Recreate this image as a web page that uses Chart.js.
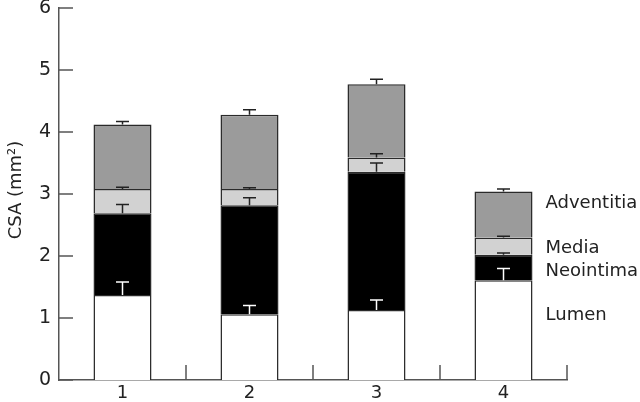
<!DOCTYPE html>
<html>
<head>
<meta charset="utf-8">
<script src="https://cdn.jsdelivr.net/npm/chart.js@4.4.1/dist/chart.umd.min.js"></script>
<style>
  html, body { margin: 0; padding: 0; background: #fff; }
  #wrap { width: 640px; height: 402px; position: relative; }
</style>
</head>
<body>
<div id="wrap"><canvas id="c"></canvas></div>
<script>
const groups = ['1', '2', '3', '4'];
const seriesNames = ['Lumen', 'Neointima', 'Media', 'Adventitia'];
const lumen = [1.37, 1.06, 1.13, 1.61];
const neointima = [1.32, 1.76, 2.23, 0.41];
const media = [0.39, 0.26, 0.23, 0.28];
const adventitia = [1.04, 1.20, 1.18, 0.74];
const lumenErr = [0.21, 0.14, 0.16, 0.19];
const neointimaErr = [0.14, 0.12, 0.14, 0.03];
const mediaErr = [0.03, 0.02, 0.06, 0.02];
const adventitiaErr = [0.05, 0.08, 0.08, 0.04];
const yTicks = [0, 1, 2, 3, 4, 5, 6];
// where the side labels sit, in axis units
const labelLevels = [1.05, 1.76, 2.13, 2.85];

const fills = ['#ffffff', '#000000', '#d2d2d2', '#9b9b9b'];
const errs = [lumenErr, neointimaErr, mediaErr, adventitiaErr];
const ink = '#222';
const fontFam = '"DejaVu Sans", sans-serif';

const datasets = [lumen, neointima, media, adventitia].map((vals, i) => ({
    label: seriesNames[i],
    data: vals,
    backgroundColor: fills[i],
    borderColor: '#2a2a2a',
    borderWidth: 1.5,
    borderSkipped: 'bottom',
    categoryPercentage: 1,
    barPercentage: 0.457
}));

const extras = {
    id: 'extras',
    afterDatasetsDraw(chart) {
        const ctx = chart.ctx;
        const y = chart.scales.y;
        const area = chart.chartArea;
        ctx.save();

        // error bars (upward only)
        const sums = groups.map(() => 0);
        datasets.forEach((ds, i) => {
            const meta = chart.getDatasetMeta(i);
            ds.data.forEach((v, j) => {
                sums[j] += v;
                const bar = meta.data[j];
                const top = y.getPixelForValue(sums[j]);
                const cap = y.getPixelForValue(sums[j] + errs[i][j]);
                ctx.strokeStyle = i === 0 ? '#fff' : ink;
                ctx.lineWidth = 1.5;
                ctx.beginPath();
                ctx.moveTo(bar.x, top);
                ctx.lineTo(bar.x, cap);
                ctx.moveTo(bar.x - 6.5, cap);
                ctx.lineTo(bar.x + 6.5, cap);
                ctx.stroke();
            });
        });

        // inward tick marks
        ctx.strokeStyle = '#555';
        ctx.lineWidth = 1.5;
        ctx.beginPath();
        yTicks.forEach(t => {
            const py = y.getPixelForValue(t);
            ctx.moveTo(area.left, py);
            ctx.lineTo(area.left + 14, py);
        });
        const step = (area.right - area.left) / groups.length;
        for (let k = 1; k <= groups.length; k++) {
            const px = area.left + k * step;
            ctx.moveTo(px, area.bottom);
            ctx.lineTo(px, area.bottom - 15);
        }
        ctx.stroke();

        // side labels next to the last bar
        const last = chart.getDatasetMeta(0).data[groups.length - 1];
        const lx = last.x + last.width / 2 + 13;
        ctx.fillStyle = ink;
        ctx.font = '18px ' + fontFam;
        ctx.textAlign = 'left';
        ctx.textBaseline = 'middle';
        seriesNames.forEach((name, i) => {
            ctx.fillText(name, lx, y.getPixelForValue(labelLevels[i]));
        });

        // y axis title
        ctx.translate(16, 190);
        ctx.rotate(-Math.PI / 2);
        ctx.textAlign = 'center';
        ctx.fillText('CSA (mm\u00B2)', 0, 0);
        ctx.restore();
    }
};

new Chart(document.getElementById('c'), {
    type: 'bar',
    data: { labels: groups, datasets },
    options: {
        responsive: true,
        maintainAspectRatio: false,
        animation: false,
        layout: { padding: { left: 0, right: 73, top: 8, bottom: 0 } },
        plugins: {
            legend: { display: false },
            tooltip: { enabled: false }
        },
        scales: {
            x: {
                stacked: true,
                grid: { display: false, drawTicks: false },
                border: { display: true, color: '#555', width: 1.5 },
                ticks: { color: ink, font: { size: 18, family: fontFam }, padding: 3 },
                afterFit(scale) { scale.height = 22; }
            },
            y: {
                stacked: true,
                min: 0,
                max: 6,
                afterBuildTicks(scale) { scale.ticks = yTicks.map(v => ({ value: v })); },
                grid: { display: false, drawTicks: false },
                border: { display: true, color: '#555', width: 1.5 },
                ticks: { color: ink, font: { size: 19, family: fontFam }, padding: 8 },
                afterFit(scale) {
                    scale.width = 59;
                    scale.paddingTop = 0;
                    scale.paddingBottom = 0;
                }
            }
        }
    },
    plugins: [extras]
});
</script>
</body>
</html>
